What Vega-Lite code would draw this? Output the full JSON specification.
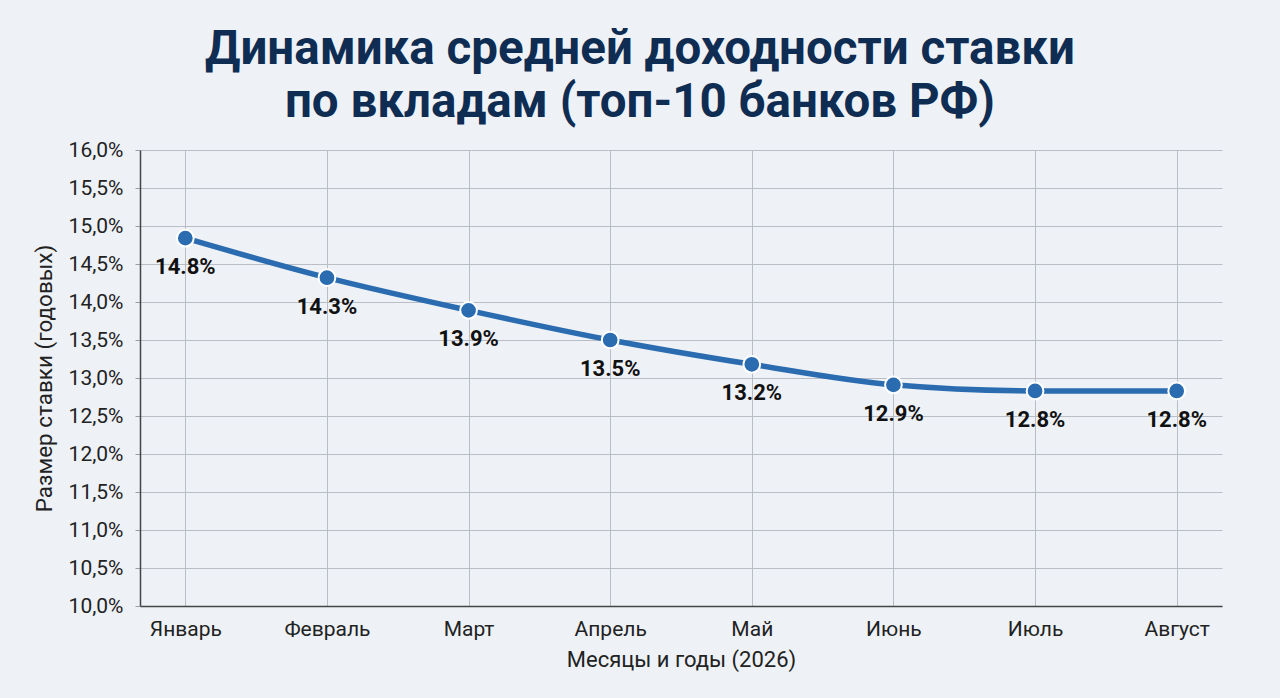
{
  "$schema": "https://vega.github.io/schema/vega-lite/v6.json",
  "width": 1082,
  "height": 456,
  "autosize": {"type": "none"},
  "padding": {"left": 140, "top": 150, "right": 58, "bottom": 92},
  "background": "#eef2f7",
  "title": {
    "text": ["Динамика средней доходности ставки", "по вкладам (топ-10 банков РФ)"],
    "font": "Roboto",
    "fontSize": 47.5,
    "fontWeight": "bold",
    "color": "#0f2d52",
    "lineHeight": 53,
    "anchor": "middle",
    "dx": -41,
    "offset": 13
  },
  "config": {
    "view": {"stroke": null},
    "font": "Roboto"
  },
  "data": {
    "values": [
      {"month": "Январь", "rate": 14.84, "label": "14.8%"},
      {"month": "Февраль", "rate": 14.32, "label": "14.3%"},
      {"month": "Март", "rate": 13.89, "label": "13.9%"},
      {"month": "Апрель", "rate": 13.5, "label": "13.5%"},
      {"month": "Май", "rate": 13.18, "label": "13.2%"},
      {"month": "Июнь", "rate": 12.91, "label": "12.9%"},
      {"month": "Июль", "rate": 12.83, "label": "12.8%"},
      {"month": "Август", "rate": 12.83, "label": "12.8%"}
    ]
  },
  "encoding": {
    "x": {
      "field": "month",
      "type": "nominal",
      "sort": null,
      "scale": {"type": "point", "padding": 0.32},
      "axis": {
        "title": "Месяцы и годы (2026)",
        "titleFont": "Roboto",
        "titleFontSize": 22,
        "titleFontWeight": "normal",
        "titleColor": "#222222",
        "titlePadding": 10,
        "labelAngle": 0,
        "labelFont": "Roboto",
        "labelFontSize": 21,
        "labelColor": "#222222",
        "labelPadding": 12,
        "ticks": false,
        "grid": true,
        "gridColor": "#b9bdc5",
        "gridWidth": 1,
        "domainColor": "#444444",
        "domainWidth": 1.5
      }
    },
    "y": {
      "field": "rate",
      "type": "quantitative",
      "scale": {"domain": [10, 16], "nice": false, "zero": false},
      "axis": {
        "title": "Размер ставки (годовых)",
        "titleFont": "Roboto",
        "titleFontSize": 22.5,
        "titleFontWeight": "normal",
        "titleColor": "#222222",
        "titlePadding": 12,
        "values": [10, 10.5, 11, 11.5, 12, 12.5, 13, 13.5, 14, 14.5, 15, 15.5, 16],
        "labelExpr": "replace(format(datum.value, '.1f'), '.', ',') + '%'",
        "labelFont": "Roboto",
        "labelFontSize": 21,
        "labelColor": "#222222",
        "labelPadding": 12,
        "tickSize": 5,
        "tickColor": "#9aa0a8",
        "grid": true,
        "gridColor": "#b9bdc5",
        "gridWidth": 1,
        "domainColor": "#444444",
        "domainWidth": 1.5
      }
    }
  },
  "layer": [
    {
      "mark": {"type": "line", "color": "#2b6cb0", "strokeWidth": 5.5, "interpolate": "monotone"}
    },
    {
      "mark": {"type": "point", "filled": true, "fill": "#2b6cb0", "stroke": "#ffffff", "strokeWidth": 2, "size": 280, "opacity": 1}
    },
    {
      "mark": {"type": "text", "font": "Roboto", "fontSize": 22, "fontWeight": "bold", "color": "#111111", "dy": 29, "baseline": "middle"},
      "encoding": {"text": {"field": "label"}}
    }
  ]
}
